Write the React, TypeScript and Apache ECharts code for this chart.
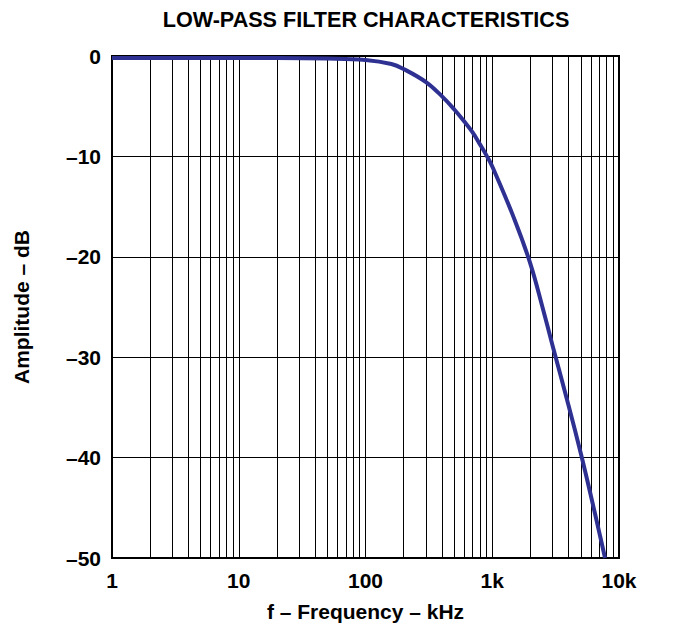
import React, { useEffect, useRef } from "react";
import * as echarts from "echarts";

// Frequency (kHz) and amplitude (dB)
const FREQ_KHZ = [1, 2, 5, 10, 20, 50, 100, 160, 200, 300, 400, 500, 600, 700, 800, 900, 1000, 1500, 2000, 2500, 3000, 4000, 5000, 6000, 7000, 7760];
const AMPL_DB = [-0.2, -0.2, -0.2, -0.2, -0.2, -0.25, -0.4, -0.8, -1.3, -2.6, -4.0, -5.3, -6.5, -7.6, -8.8, -9.9, -11.0, -16.3, -20.7, -25.1, -28.9, -34.8, -39.6, -43.8, -47.5, -50];

// Axis ticks / labels
const X_TICK_VALUES = [1, 10, 100, 1000, 10000];
const X_TICK_LABELS = ["1", "10", "100", "1k", "10k"];
const DECADES = [1, 10, 100, 1000];
const MINOR_MULTIPLIERS = [2, 3, 4, 5, 6, 7, 8, 9];
const Y_MIN = -50;
const Y_MAX = 0;
const Y_STEP = 10;

const TITLE = "LOW-PASS FILTER CHARACTERISTICS";
const X_NAME = "f \u2013 Frequency \u2013 kHz";
const Y_NAME = "Amplitude \u2013 dB";

const FONT = "'Liberation Sans', Arial, Helvetica, sans-serif";

export default function App() {
  const ref = useRef<HTMLDivElement>(null);

  useEffect(() => {
    if (!ref.current) return;
    const chart = echarts.init(ref.current, undefined, { renderer: "svg" });

    const minorLines: { xAxis: number }[] = [];
    DECADES.forEach((d) => MINOR_MULTIPLIERS.forEach((m) => minorLines.push({ xAxis: d * m })));

    const labelStyle = { color: "#000", fontSize: 21, fontWeight: "bold" as const, fontFamily: FONT };

    chart.setOption({
      animation: false,
      title: {
        text: TITLE,
        left: 162.7,
        top: 8.7,
        padding: 0,
        textAlign: "left",
        textStyle: { ...labelStyle, fontSize: 21.6 },
      },
      grid: {
        left: 112,
        right: 55,
        top: 56,
        bottom: 66,
        show: true,
        borderColor: "#000",
        borderWidth: 2,
        backgroundColor: "transparent",
      },
      xAxis: {
        type: "log",
        logBase: 10,
        min: 1,
        max: 10000,
        name: X_NAME,
        nameLocation: "middle",
        nameGap: 43,
        nameTextStyle: { ...labelStyle },
        axisLine: { show: false },
        axisTick: { show: false },
        axisLabel: {
          ...labelStyle,
          margin: 12,
          formatter: (v: number) => {
            const i = X_TICK_VALUES.findIndex((t) => Math.abs(t - v) < 1e-6 * t);
            return i >= 0 ? X_TICK_LABELS[i] : "";
          },
        },
        splitLine: { show: true, lineStyle: { color: "#000", width: 1 } },
      },
      yAxis: {
        type: "value",
        min: Y_MIN,
        max: Y_MAX,
        interval: Y_STEP,
        name: Y_NAME,
        nameLocation: "middle",
        nameGap: 80,
        nameTextStyle: { ...labelStyle },
        axisLine: { show: false },
        axisTick: { show: false },
        axisLabel: {
          ...labelStyle,
          margin: 11,
          formatter: (v: number) => (v < 0 ? "\u2013" + Math.abs(v) : String(v)),
        },
        splitLine: { show: true, lineStyle: { color: "#000", width: 1 } },
      },
      series: [
        {
          type: "line",
          z: 1,
          data: FREQ_KHZ.map((f, i) => [f, AMPL_DB[i]]),
          symbol: "none",
          lineStyle: { opacity: 0 },
          silent: true,
          markLine: {
            silent: true,
            symbol: ["none", "none"],
            label: { show: false },
            lineStyle: { color: "#000", width: 1, type: "solid" },
            data: minorLines,
            animation: false,
          },
        },
        {
          type: "line",
          z: 5,
          data: FREQ_KHZ.map((f, i) => [f, AMPL_DB[i]]),
          symbol: "none",
          smooth: 0.4,
          clip: true,
          lineStyle: { color: "#2E3192", width: 4 },
        },
      ],
    });

    return () => chart.dispose();
  }, []);

  return (
    <div
      ref={ref}
      style={{ position: "fixed", left: 0, top: 0, width: 674, height: 627, background: "#fff" }}
    />
  );
}
